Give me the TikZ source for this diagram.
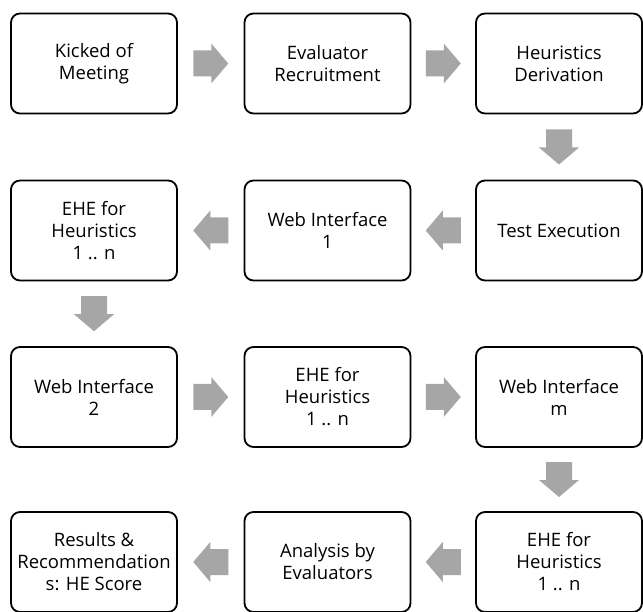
\documentclass[tikz,border=0pt]{standalone}
\usepackage{fontspec}
\setmainfont{Open Sans}
\usetikzlibrary{calc}
\definecolor{arrgray}{HTML}{A6A6A6}
\begin{document}
\begin{tikzpicture}[x=1pt,y=-1pt,
  stage/.style={draw=black,line width=1.8pt,rounded corners=9pt,fill=white,
    minimum width=166pt,minimum height=100pt,align=center,
    font=\fontsize{18.5}{22}\selectfont,inner sep=2pt},
  flowarrow/.pic={\fill[arrgray] (-17.5,-13) -- (0.5,-13) -- (0.5,-20) -- (17.5,0)
      -- (0.5,20) -- (0.5,13) -- (-17.5,13) -- cycle;},
  rt/.style={rotate=0},
  lt/.style={rotate=180},
  dn/.style={rotate=-90}]
\useasboundingbox (0,0) rectangle (643,612);
\fill[white] (0,0) rectangle (643,612);
% row 1
\node[stage] (a1) at (94,63.5) {Kicked of\\Meeting};
\node[stage] (a2) at (327.5,63.5) {Evaluator\\Recruitment};
\node[stage] (a3) at (559,63.5) {Heuristics\\Derivation};
% row 2
\node[stage] (b3) at (559,230.5) {Test Execution};
\node[stage] (b2) at (327.5,230.5) {Web Interface\\1};
\node[stage] (b1) at (94,230.5) {EHE for\\Heuristics\\1 .. n};
% row 3
\node[stage] (c1) at (94,397) {Web Interface\\2};
\node[stage] (c2) at (327.5,397) {EHE for\\Heuristics\\1 .. n};
\node[stage] (c3) at (559,397) {Web Interface\\m};
% row 4
\node[stage] (d3) at (559,562) {EHE for\\Heuristics\\1 .. n};
\node[stage] (d2) at (327.5,562) {Analysis by\\Evaluators};
\node[stage] (d1) at (94,562) {Results \&\\Recommendation\\s: HE Score};
% arrows between named boxes
\coordinate (r1) at ($(a1.east)!0.5!(a2.west)$);
\coordinate (r2) at ($(a2.east)!0.5!(a3.west)$);
\coordinate (r3) at ($(a3.south)!0.5!(b3.north)$);
\coordinate (r4) at ($(b3.west)!0.5!(b2.east)$);
\coordinate (r5) at ($(b2.west)!0.5!(b1.east)$);
\coordinate (r6) at ($(b1.south)!0.5!(c1.north)$);
\coordinate (r7) at ($(c1.east)!0.5!(c2.west)$);
\coordinate (r8) at ($(c2.east)!0.5!(c3.west)$);
\coordinate (r9) at ($(c3.south)!0.5!(d3.north)$);
\coordinate (r10) at ($(d3.west)!0.5!(d2.east)$);
\coordinate (r11) at ($(d2.west)!0.5!(d1.east)$);
\pic[rt] at (r1) {flowarrow};
\pic[rt] at (r2) {flowarrow};
\pic[dn] at (r3) {flowarrow};
\pic[lt] at (r4) {flowarrow};
\pic[lt] at (r5) {flowarrow};
\pic[dn] at (r6) {flowarrow};
\pic[rt] at (r7) {flowarrow};
\pic[rt] at (r8) {flowarrow};
\pic[dn] at (r9) {flowarrow};
\pic[lt] at (r10) {flowarrow};
\pic[lt] at (r11) {flowarrow};
\end{tikzpicture}
\end{document}
